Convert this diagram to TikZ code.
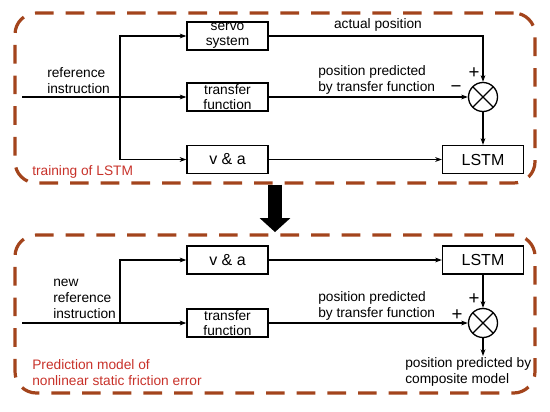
\documentclass[tikz,border=0pt]{standalone}
\usepackage{fontspec}
\setmainfont{Liberation Sans}
\usepackage{tikz}
\usetikzlibrary{arrows.meta,positioning}
\definecolor{frameBrown}{HTML}{A3441C}
\definecolor{noteRed}{HTML}{C8322A}

\tikzset{
  blockbox/.style={draw, line width=1pt, minimum width=81*0.75pt, minimum height=28*0.75pt,
    inner sep=0pt, align=center, font=\fontsize{10.3}{11.2}\selectfont},
  bigblock/.style={blockbox, font=\fontsize{12}{14}\selectfont},
  sumnode/.style={circle, draw, line width=1pt, minimum size=29*0.75pt, inner sep=0pt,
    path picture={\draw[line width=1pt]
      (path picture bounding box.north west) -- (path picture bounding box.south east)
      (path picture bounding box.north east) -- (path picture bounding box.south west);}},
  dashbox/.style={draw=frameBrown, line width=2.4pt, dash pattern=on 14pt off 9pt, rounded corners=16pt},
  sig/.style={line width=0.8pt, -{Stealth[length=5pt,width=3.6pt]}},
  lbl/.style={align=left, anchor=west, inner sep=0pt, font=\fontsize{10.3}{12}\selectfont},
  note/.style={lbl, text=noteRed},
  sign/.style={inner sep=0pt, font=\fontsize{14}{14}\selectfont},
}

\begin{document}
\begin{tikzpicture}[x=0.75pt, y=-0.75pt, font=\fontsize{10.3}{12}\selectfont]
  \useasboundingbox (0,0) rectangle (550,411);

  % training of LSTM
  \node[dashbox, minimum width=520*0.75pt, minimum height=170*0.75pt] (train) at (275,98) {};
  \node[blockbox] (servo) at (227.5,36) {servo\\system};
  \node[blockbox] (tf1) at (227.5,97) {transfer\\function};
  \node[bigblock] (va1) at (227.5,159.5) {v \& a};
  \node[bigblock] (lstm1) at (483,159.5) {LSTM};
  \node[sumnode] (sum1) at (483,97) {};
  \coordinate (in1) at (22,97);
  \coordinate (br1) at (120,97);

  \draw[sig] (in1) -- (tf1);
  \draw[sig] (br1) |- (servo.west);
  \draw[sig] (br1) |- (va1.west);
  \draw[sig] (servo.east) -| (sum1.north);
  \draw[sig] (tf1) -- (sum1);
  \draw[sig] (va1) -- (lstm1);
  \draw[sig] (sum1) -- (lstm1);

  \node[lbl] at (47,81) {reference\\instruction};
  \node at (378,25) {actual position};
  \node[lbl] at (318,80) {position predicted\\by transfer function};
  \node[sign] at (474,73) {+};
  \node[sign] at (456,89) {−};
  \node[note] at (32,172) {training of LSTM};

  % prediction model
  \node[dashbox, minimum width=520*0.75pt, minimum height=158*0.75pt] (pred) at (275,314) {};
  \node[bigblock] (va2) at (227.5,260) {v \& a};
  \node[blockbox] (tf2) at (227.5,323) {transfer\\function};
  \node[bigblock] (lstm2) at (483,260) {LSTM};
  \node[sumnode] (sum2) at (483,323) {};
  \coordinate (in2) at (22,323);
  \coordinate (br2) at (120,323);
  \coordinate (out2) at (483,356);

  \draw[sig] (in2) -- (tf2);
  \draw[sig] (br2) |- (va2.west);
  \draw[sig] (va2) -- (lstm2);
  \draw[sig] (lstm2) -- (sum2);
  \draw[sig] (tf2) -- (sum2);
  \draw[sig] (sum2) -- (out2);

  \node[lbl] at (53,298.5) {new\\reference\\instruction};
  \node[lbl] at (318,305.5) {position predicted\\by transfer function};
  \node[sign] at (474,299) {+};
  \node[sign] at (457,315) {+};
  \node[lbl] at (405,372) {position predicted by\\composite model};
  \node[note] at (32,373) {Prediction model of\\nonlinear static friction error};

  % big arrow between the two parts
  \draw[line width=11pt, -{Triangle[length=10.5pt,width=22.5pt]}, shorten >=1pt] (train.south) -- (pred.north);
\end{tikzpicture}
\end{document}
